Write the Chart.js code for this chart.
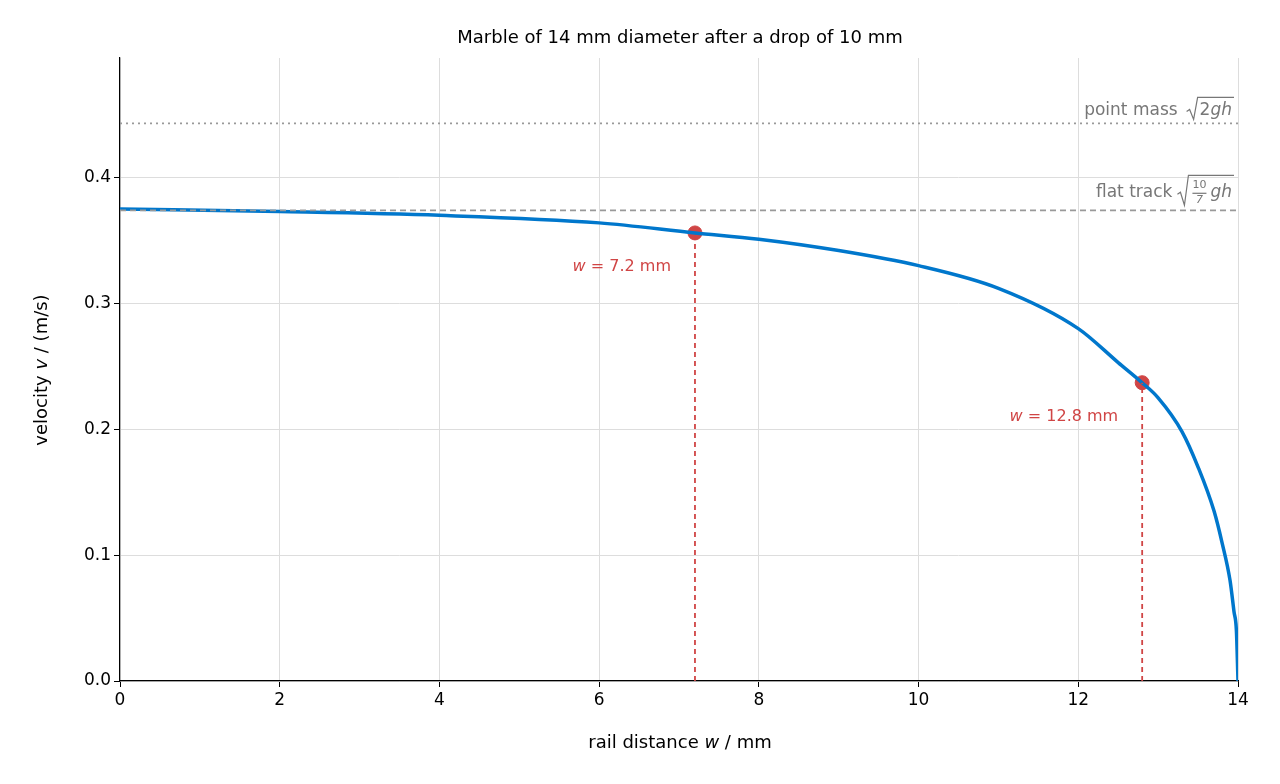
<!DOCTYPE html>
<html><head><meta charset="utf-8">
<script src="https://cdn.jsdelivr.net/npm/chart.js@4"></script>
<style>body{margin:0;background:#fff}</style>
</head><body>
<canvas id="c" width="1280" height="784"></canvas>
<script>
// values
const railW   = [0, 2, 4, 6, 7.2, 8, 9, 10, 11, 12, 12.5, 12.8, 13, 13.3, 13.5, 13.7, 13.8, 13.9, 13.95, 13.98, 14];
const speed   = [0.375, 0.373, 0.370, 0.364, 0.356, 0.351, 0.342, 0.330, 0.312, 0.280, 0.253, 0.237, 0.225, 0.198, 0.170, 0.135, 0.110, 0.080, 0.055, 0.040, 0];
const pointMassV = 0.443;
const flatTrackV = 0.374;
const marks   = [{w: 7.2, v: 0.356}, {w: 12.8, v: 0.237}];

const red = '#d04545', gray = '#999999', blue = '#0077cc';
const F = '"DejaVu Sans"';

// draws "pre" + italic(it) + post, right- or center-aligned
function mixed(c, parts, x, y, align, size){
  let total = 0;
  parts.forEach(p => { c.font = (p.i ? 'italic ' : '') + size + 'px ' + F; p.w = c.measureText(p.t).width; total += p.w; });
  let cx = align === 'right' ? x - total : x - total / 2;
  c.textAlign = 'left';
  parts.forEach(p => { c.font = (p.i ? 'italic ' : '') + size + 'px ' + F; c.fillText(p.t, cx, y); cx += p.w; });
}

const labels = {
  id: 'labels',
  afterDraw(chart){
    const c = chart.ctx, x = chart.scales.x, y = chart.scales.y;
    c.save();
    c.fillStyle = '#000'; c.textBaseline = 'middle';
    mixed(c, [{t: 'Marble of 14 mm diameter after a drop of 10 mm'}], 680, 38, 'center', 18);
    mixed(c, [{t: 'rail distance '}, {t: 'w', i: 1}, {t: ' / mm'}], 680, 743, 'center', 18);
    c.save(); c.translate(42, 370); c.rotate(-Math.PI / 2);
    mixed(c, [{t: 'velocity '}, {t: 'v', i: 1}, {t: ' / (m/s)'}], 0, 0, 'center', 18);
    c.restore();

    c.fillStyle = red;
    marks.forEach(m => {
      const rx = x.getPixelForValue(m.w) - 24, ry = y.getPixelForValue(m.v) + 34;
      mixed(c, [{t: 'w', i: 1}, {t: ' = ' + m.w + ' mm'}], rx, ry, 'right', 16);
    });

    c.fillStyle = '#777'; c.strokeStyle = '#777'; c.lineWidth = 1.2;
    const right = x.right - 6;
    let yy = y.getPixelForValue(pointMassV) - 13;
    c.font = 'italic 17px ' + F;
    let gw = c.measureText('gh').width;
    c.font = '17px ' + F;
    let inner = gw + c.measureText('2').width;
    mixed(c, [{t: '2'}, {t: 'gh', i: 1}], right, yy, 'right', 17);
    let sx = right - inner - 2;
    c.beginPath();
    c.moveTo(sx - 11, yy + 1); c.lineTo(sx - 8, yy - 1); c.lineTo(sx - 4, yy + 9); c.lineTo(sx, yy - 13); c.lineTo(right + 2, yy - 13);
    c.stroke();
    mixed(c, [{t: 'point mass'}], sx - 20, yy, 'right', 17);

    yy = y.getPixelForValue(flatTrackV) - 18;
    mixed(c, [{t: 'gh', i: 1}], right, yy, 'right', 17);
    const fx = right - gw - 11;
    c.textAlign = 'center';
    c.font = '11px ' + F; c.fillText('10', fx, yy - 7);
    c.font = 'italic 11px ' + F; c.fillText('7', fx, yy + 8);
    c.beginPath(); c.moveTo(fx - 7, yy + 1); c.lineTo(fx + 7, yy + 1); c.stroke();
    sx = fx - 11;
    c.beginPath();
    c.moveTo(sx - 11, yy + 2); c.lineTo(sx - 8, yy); c.lineTo(sx - 4, yy + 13); c.lineTo(sx, yy - 17); c.lineTo(right + 2, yy - 17);
    c.stroke();
    mixed(c, [{t: 'flat track'}], sx - 16, yy, 'right', 17);
    c.restore();
  }
};

const datasets = [
  {data: [{x: 0, y: pointMassV}, {x: 14, y: pointMassV}], showLine: true, borderColor: gray, borderWidth: 1.8, borderDash: [2, 4], pointRadius: 0},
  {data: [{x: 0, y: flatTrackV}, {x: 14, y: flatTrackV}], showLine: true, borderColor: gray, borderWidth: 1.8, borderDash: [6, 4], pointRadius: 0},
  ...marks.map(m => ({data: [{x: m.w, y: 0}, {x: m.w, y: m.v}], showLine: true, borderColor: red, borderWidth: 1.8, borderDash: [5, 4], pointRadius: 0})),
  {data: railW.map((w, i) => ({x: w, y: speed[i]})), showLine: true, borderColor: blue, borderWidth: 3.5, pointRadius: 0, cubicInterpolationMode: 'monotone'},
  {data: marks.map(m => ({x: m.w, y: m.v})), showLine: false, pointRadius: 7, pointBackgroundColor: red, pointBorderColor: red}
];

new Chart(document.getElementById('c'), {
  type: 'scatter',
  data: {datasets},
  options: {
    responsive: false, animation: false,
    layout: {padding: {top: 58, right: 42}},
    plugins: {legend: {display: false}, tooltip: {enabled: false}},
    scales: {
      x: {
        type: 'linear', min: 0, max: 14,
        ticks: {stepSize: 2, color: '#000', font: {size: 17, family: 'DejaVu Sans'}},
        grid: {color: '#dddddd', tickColor: '#000', tickLength: 6},
        border: {color: '#000', width: 1.2},
        afterFit(s){ s.height = 103; }
      },
      y: {
        min: 0, max: 0.495,
        afterBuildTicks(s){ s.ticks = s.ticks.filter(t => t.value <= 0.4001); },
        ticks: {stepSize: 0.1, color: '#000', font: {size: 17, family: 'DejaVu Sans'}, callback: v => v.toFixed(1)},
        grid: {color: '#dddddd', tickColor: '#000', tickLength: 6},
        border: {color: '#000', width: 1.2},
        afterFit(s){ s.width = 120; }
      }
    }
  },
  plugins: [labels]
});
</script>
</body></html>
